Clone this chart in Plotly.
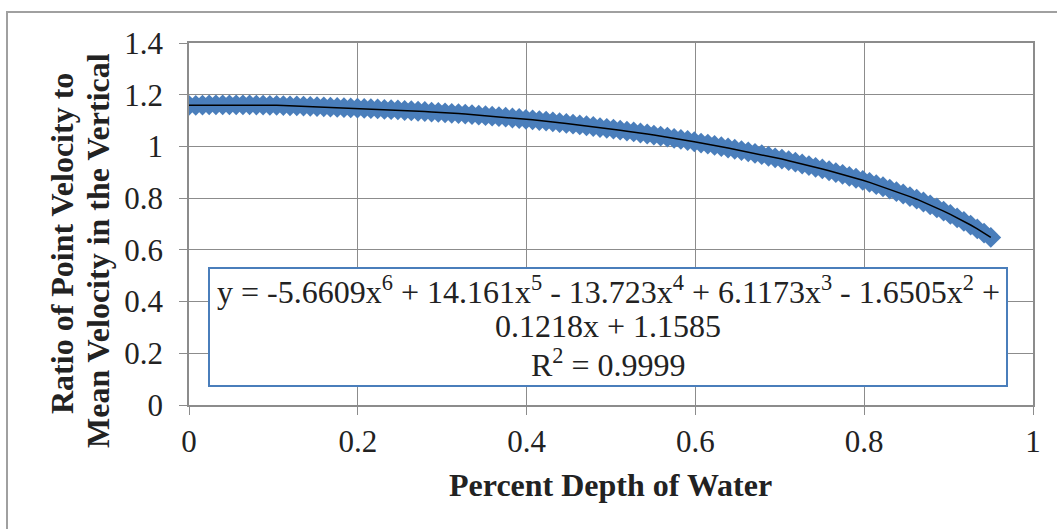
import plotly.graph_objects as go

# Percent depth of water (x)
depth = [0.0000, 0.0080, 0.0160, 0.0239, 0.0319, 0.0399, 0.0479, 0.0559, 0.0639, 0.0718,
         0.0798, 0.0878, 0.0958, 0.1038, 0.1118, 0.1197, 0.1277, 0.1357, 0.1437, 0.1517,
         0.1597, 0.1676, 0.1756, 0.1836, 0.1916, 0.1996, 0.2076, 0.2155, 0.2235, 0.2315,
         0.2395, 0.2475, 0.2555, 0.2634, 0.2714, 0.2794, 0.2874, 0.2954, 0.3034, 0.3113,
         0.3193, 0.3273, 0.3353, 0.3433, 0.3513, 0.3592, 0.3672, 0.3752, 0.3832, 0.3912,
         0.3992, 0.4071, 0.4151, 0.4231, 0.4311, 0.4391, 0.4471, 0.4550, 0.4630, 0.4710,
         0.4790, 0.4870, 0.4950, 0.5029, 0.5109, 0.5189, 0.5269, 0.5349, 0.5429, 0.5508,
         0.5588, 0.5668, 0.5748, 0.5828, 0.5908, 0.5987, 0.6067, 0.6147, 0.6227, 0.6307,
         0.6387, 0.6466, 0.6546, 0.6626, 0.6706, 0.6786, 0.6866, 0.6945, 0.7025, 0.7105,
         0.7185, 0.7265, 0.7345, 0.7424, 0.7504, 0.7584, 0.7664, 0.7744, 0.7824, 0.7903,
         0.7983, 0.8063, 0.8143, 0.8223, 0.8303, 0.8382, 0.8462, 0.8542, 0.8622, 0.8702,
         0.8782, 0.8861, 0.8941, 0.9021, 0.9101, 0.9181, 0.9261, 0.9340, 0.9420, 0.9500]

# Ratio of point velocity to mean velocity in the vertical (y)
ratio = [1.159, 1.159, 1.160, 1.161, 1.161, 1.161, 1.161, 1.161, 1.161, 1.161,
         1.160, 1.160, 1.159, 1.159, 1.158, 1.157, 1.157, 1.156, 1.155, 1.154,
         1.153, 1.152, 1.151, 1.150, 1.149, 1.148, 1.147, 1.146, 1.145, 1.143,
         1.142, 1.141, 1.139, 1.138, 1.136, 1.135, 1.133, 1.132, 1.130, 1.128,
         1.127, 1.125, 1.123, 1.121, 1.119, 1.117, 1.115, 1.113, 1.110, 1.108,
         1.105, 1.103, 1.100, 1.098, 1.095, 1.092, 1.089, 1.086, 1.083, 1.080,
         1.077, 1.073, 1.070, 1.067, 1.063, 1.059, 1.056, 1.052, 1.048, 1.044,
         1.040, 1.036, 1.031, 1.027, 1.023, 1.018, 1.013, 1.009, 1.004, 0.999,
         0.994, 0.989, 0.984, 0.979, 0.973, 0.968, 0.962, 0.956, 0.951, 0.945,
         0.939, 0.932, 0.926, 0.919, 0.913, 0.906, 0.899, 0.892, 0.884, 0.877,
         0.869, 0.861, 0.852, 0.844, 0.835, 0.825, 0.816, 0.806, 0.796, 0.785,
         0.774, 0.762, 0.750, 0.737, 0.724, 0.710, 0.696, 0.681, 0.665, 0.648]

x_tick_vals = [0, 0.2, 0.4, 0.6, 0.8, 1]
x_tick_text = ["0", "0.2", "0.4", "0.6", "0.8", "1"]
y_tick_vals = [0, 0.2, 0.4, 0.6, 0.8, 1, 1.2, 1.4]
y_tick_text = ["0", "0.2", "0.4", "0.6", "0.8", "1", "1.2", "1.4"]

eq_lines = ["y = -5.6609x<sup>6</sup> + 14.161x<sup>5</sup> - 13.723x<sup>4</sup> + 6.1173x<sup>3</sup> - 1.6505x<sup>2</sup> +",
            "0.1218x + 1.1585",
            "R<sup>2</sup> = 0.9999"]
y_title_lines = ["Ratio of Point Velocity to", "Mean Velocity in the Vertical"]
x_title = "Percent Depth of Water"

FONT = "Liberation Serif"
W, H = 1057, 529
L, R, T, B = 189, 1033, 43, 405

fig = go.Figure()
fig.add_trace(go.Scatter(x=depth, y=ratio, mode="markers",
                         marker=dict(symbol="diamond", size=16, color="#4A7EBB",
                                     line=dict(width=0)),
                         showlegend=False))
fig.add_trace(go.Scatter(x=depth, y=ratio, mode="lines",
                         line=dict(color="black", width=1.5), showlegend=False))


def px2x(p):
    return (p - L) / (R - L)


def py2y(p):
    return (B - p) / (B - T)


axis_common = dict(showgrid=True, gridcolor="#8C8C8C", gridwidth=1,
                   showline=True, linecolor="#8C8C8C", linewidth=1.5, mirror=True,
                   ticks="outside", ticklen=8, tickcolor="#8C8C8C",
                   zeroline=False, tickfont=dict(family=FONT, size=31, color="#222"))

fig.update_layout(
    width=W, height=H,
    margin=dict(l=L, r=W - R, t=T, b=H - B),
    paper_bgcolor="white", plot_bgcolor="white",
    font=dict(family=FONT, size=31, color="black"),
    xaxis=dict(range=[0, 1], tickvals=x_tick_vals, ticktext=x_tick_text, **axis_common),
    yaxis=dict(range=[0, 1.4], tickvals=y_tick_vals, ticktext=y_tick_text,
               ticklabelstandoff=10, **axis_common),
)

# outer chart frame
fig.add_shape(type="rect", xref="paper", yref="paper",
              x0=px2x(7), x1=px2x(1070), y0=py2y(545), y1=py2y(12),
              line=dict(color="#A0A0A0", width=2), fillcolor="rgba(0,0,0,0)", layer="below")

# equation box
fig.add_shape(type="rect", xref="paper", yref="paper",
              x0=px2x(209), x1=px2x(1007), y0=py2y(386), y1=py2y(268),
              line=dict(color="#4A7EBB", width=2), fillcolor="white", layer="above")

for txt, yc in zip(eq_lines, [290, 326, 363]):
    fig.add_annotation(text=txt, xref="paper", yref="paper", x=px2x(608), y=py2y(yc),
                       showarrow=False, xanchor="center", yanchor="middle",
                       font=dict(family=FONT, size=32, color="#222"))

for txt, xc, yc in zip(y_title_lines, [62, 98], [244, 251]):
    fig.add_annotation(text="<b>" + txt + "</b>", xref="paper", yref="paper",
                       x=px2x(xc), y=py2y(yc), textangle=-90, showarrow=False,
                       xanchor="center", yanchor="middle",
                       font=dict(family=FONT, size=32, color="#222"))

fig.add_annotation(text="<b>" + x_title + "</b>", xref="paper", yref="paper",
                   x=px2x(610), y=py2y(485), showarrow=False, xanchor="center", yanchor="middle",
                   font=dict(family=FONT, size=32, color="#222"))

fig.write_html("out.html", config={"displayModeBar": False},
               post_script="document.body.style.margin='0px';")
